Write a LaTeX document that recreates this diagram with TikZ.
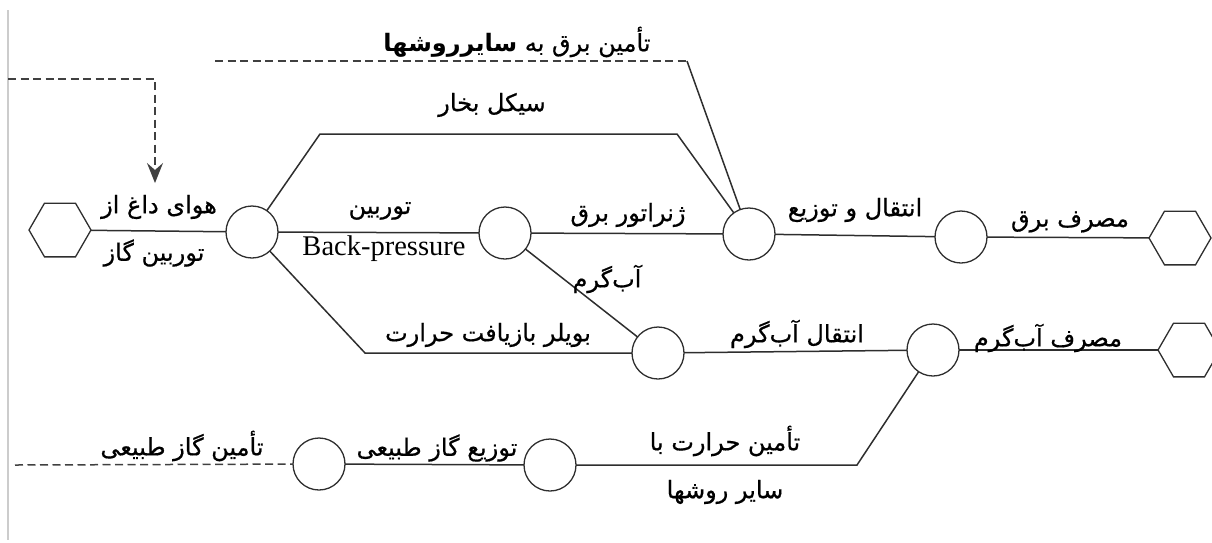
\documentclass[tikz,border=0pt]{standalone}
\usepackage{fontspec}
\TeXXeTstate=1
\newfontfamily\fa[Script=Arabic,FakeBold=0.6]{DejaVu Sans}
\newfontfamily\fab[Script=Arabic]{DejaVu Sans Bold}
\newfontfamily\lat{Liberation Serif}
\usetikzlibrary{shapes.geometric,arrows.meta}
\tikzset{
  ln/.style={line width=1.5pt, draw=black!82},
  dsh/.style={line width=1.5pt, draw=black!75, dash pattern=on 8pt off 4.5pt},
  stn/.style={circle, draw=black!82, line width=1.3pt, minimum size=52pt, inner sep=0pt, outer sep=0pt},
  hexa/.style={regular polygon, regular polygon sides=6, draw=black!82, line width=1.3pt, minimum size=62pt, inner sep=0pt, outer sep=0pt},
  lbl/.style={font=\fontsize{24}{28}\selectfont\fa, inner sep=0pt},
  latl/.style={font=\fontsize{28.5}{32}\selectfont\lat, inner sep=0pt}
}
\begin{document}
\begin{tikzpicture}[x=1pt,y=-1pt]
\useasboundingbox (0,0) rectangle (1212,542);
% left gray rule
\coordinate (gtop) at (8,10);
\coordinate (gbot) at (8,540);
\draw[line width=1.5pt, gray!40] (gtop) -- (gbot);
% stations
\node[hexa] (hL) at (60,230) {};
\node[stn] (c1) at (252,232) {};
\node[stn] (c2) at (505,233) {};
\node[stn] (c3) at (749,234) {};
\node[stn] (c4) at (961,237) {};
\node[hexa] (hR1) at (1180,238) {};
\node[stn] (c5) at (658,353) {};
\node[stn] (c6) at (933,350) {};
\node[hexa] (hR2) at (1189,350) {};
\node[stn] (c7) at (319,464) {};
\node[stn] (c8) at (550,465) {};
% bend points
\coordinate (up1) at (320,134);
\coordinate (up2) at (677,134);
\coordinate (lo1) at (365,353);
\coordinate (bt1) at (857,465);
\coordinate (dt1) at (215,61);
\coordinate (dt2) at (687,61);
\coordinate (dl1) at (8,79);
\coordinate (dl2) at (155,79);
\coordinate (dl3) at (155,183);
\coordinate (db) at (15,465);
% connectors
\draw[ln] (hL) -- (c1);
\draw[ln] (c1) -- (c2);
\draw[ln] (c2) -- (c3);
\draw[ln] (c3) -- (c4);
\draw[ln] (c4) -- (hR1);
\draw[ln] (c1) -- (up1) -- (up2) -- (c3);
\draw[ln] (c1) -- (lo1) -- (c5);
\draw[ln] (c2) -- (c5);
\draw[ln] (c5) -- (c6);
\draw[ln] (c6) -- (hR2);
\draw[ln] (c6) -- (bt1) -- (c8);
\draw[ln] (c8) -- (c7);
\draw[dsh] (dt1) -- (dt2);
\draw[ln] (dt2) -- (c3);
\draw[dsh, -{Stealth[length=20pt,width=16pt,inset=7pt]}] (dl1) -- (dl2) -- (dl3);
\draw[dsh] (db) -- (c7);
% labels
\node[lbl] (t1) at (159,207) {\beginR هوای داغ از\endR};
\node[lbl] (t2) at (154,253) {\beginR توربین گاز\endR};
\node[lbl] (t3) at (380,211) {\beginR توربین\endR};
\node[latl] (t4) at (384,249) {Back-pressure};
\node[lbl] (t5) at (492,105) {\beginR سیکل بخار\endR};
\node[lbl] (t6) at (517,42) {\beginR تأمین برق به {\fab سایرروشها}\endR};
\node[lbl] (t7) at (628,215) {\beginR ژنراتور برق\endR};
\node[lbl] (t8) at (607,279) {\beginR آب‌گرم\endR};
\node[lbl] (t9) at (855,210) {\beginR انتقال و توزیع\endR};
\node[lbl] (t10) at (1070,222) {\beginR مصرف برق\endR};
\node[lbl] (t11) at (488,335) {\beginR بویلر بازیافت حرارت\endR};
\node[lbl] (t12) at (797,334) {\beginR انتقال آب‌گرم\endR};
\node[lbl] (t13) at (1048,338) {\beginR مصرف آب‌گرم\endR};
\node[lbl] (t14) at (182,446) {\beginR تأمین گاز طبیعی\endR};
\node[lbl] (t15) at (437,448) {\beginR توزیع گاز طبیعی\endR};
\node[lbl] (t16) at (725,441) {\beginR تأمین حرارت با\endR};
\node[lbl] (t17) at (725,492) {\beginR سایر روشها\endR};
\end{tikzpicture}
\end{document}
